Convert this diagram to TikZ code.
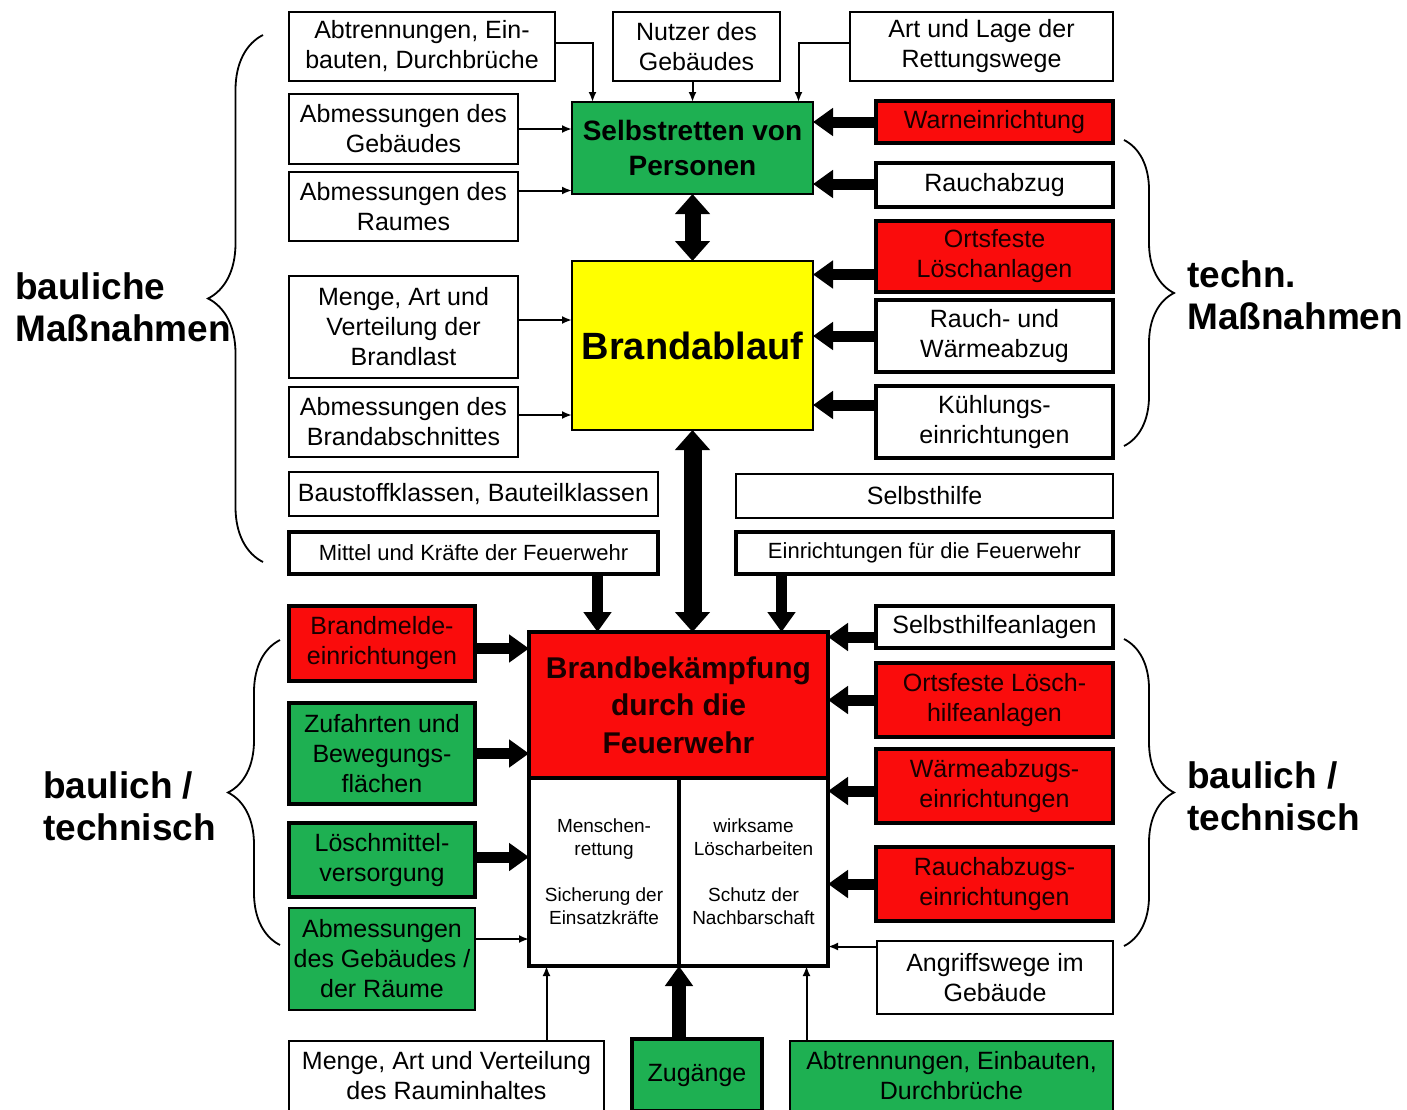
\documentclass[tikz,border=0pt]{standalone}
\usepackage{fontspec}
\setmainfont{Liberation Sans}
\usepackage{tikz}
\usetikzlibrary{arrows.meta,decorations.pathreplacing,positioning}

\definecolor{boxgreen}{RGB}{30,176,82}
\definecolor{boxred}{RGB}{250,12,12}
\definecolor{redtext}{RGB}{25,0,0}
\definecolor{boxyellow}{RGB}{255,255,0}

\begin{document}
\begin{tikzpicture}
    [
        x=1pt, y=-1pt,
        box/.style={draw, line width=1.8pt, fill=white, inner sep=0pt, outer sep=0pt,
                    align=center, font=\fontsize{25}{30}\selectfont},
        thickbox/.style={box, line width=4.5pt},
        redbox/.style={thickbox, fill=boxred, text=redtext},
        greenbox/.style={thickbox, fill=boxgreen},
        thinarr/.style={line width=2pt, -{Latex[length=10pt,width=8pt]}},
        thickarr/.style={line width=11pt, -{Triangle[length=20pt,width=27pt]}},
        bigarr/.style={line width=16pt, {Triangle[length=20pt,width=34pt]}-{Triangle[length=20pt,width=34pt]}},
        sidebrace/.style={decorate, decoration={brace, amplitude=#1}, line width=1.8pt},
        sidetext/.style={font=\fontsize{37}{42}\selectfont\bfseries, align=left, anchor=west, inner sep=0pt}
    ]
    \useasboundingbox (0,0) rectangle (1407,1109);

    % top row
    \node[box, minimum width=266pt, minimum height=69pt] (trenn) at (422,46.5) {Abtrennungen, Ein-\\bauten, Durchbrüche};
    \node[box, minimum width=167pt, minimum height=69pt] (nutzer) at (696.5,46.5) {Nutzer des\\Gebäudes};
    \node[box, minimum width=263pt, minimum height=69pt] (wege) at (981.5,46.5) {Art und Lage der\\Rettungswege};

    % left column
    \node[box, minimum width=229pt, minimum height=70pt] (geb) at (403.5,129) {Abmessungen des\\Gebäudes};
    \node[box, minimum width=229pt, minimum height=69pt] (raum) at (403.5,206.5) {Abmessungen des\\Raumes};
    \node[box, minimum width=229pt, minimum height=102pt] (last) at (403.5,327) {Menge, Art und\\Verteilung der\\Brandlast};
    \node[box, minimum width=229pt, minimum height=70pt] (abschn) at (403.5,422) {Abmessungen des\\Brandabschnittes};
    \node[box, minimum width=369pt, minimum height=44pt] (klassen) at (473.5,494) {Baustoffklassen, Bauteilklassen};
    \node[thickbox, minimum width=369pt, minimum height=42pt, font=\fontsize{22}{26}\selectfont] (mittel) at (473.5,553) {Mittel und Kräfte der Feuerwehr};

    % centre
    \node[box, fill=boxgreen, minimum width=241pt, minimum height=92pt, font=\fontsize{28}{35}\selectfont\bfseries] (selbst) at (692.5,148) {Selbstretten von\\Personen};
    \node[box, fill=boxyellow, minimum width=241pt, minimum height=169pt, font=\fontsize{38}{44}\selectfont\bfseries] (ablauf) at (692.5,345.5) {Brandablauf};
    \node[thickbox, fill=boxred, minimum width=299pt, minimum height=146pt, font=\fontsize{30}{37.5}\selectfont\bfseries, text=redtext] (bek) at (678.5,705) {Brandbekämpfung\\durch die\\Feuerwehr};
    \node[thickbox, minimum width=150pt, minimum height=188pt, anchor=north west, font=\fontsize{19}{23}\selectfont] (rettung) at (bek.south west) {Menschen-\\rettung\\[23pt]Sicherung der\\Einsatzkräfte};
    \node[thickbox, minimum width=149pt, minimum height=188pt, anchor=north west, font=\fontsize{19}{23}\selectfont] (schutz) at (rettung.north east) {wirksame\\Löscharbeiten\\[23pt]Schutz der\\Nachbarschaft};

    % right column
    \node[redbox, minimum width=237pt, minimum height=42pt] (warn) at (994.5,122) {Warneinrichtung};
    \node[thickbox, minimum width=237pt, minimum height=44pt] (rauch) at (994.5,185) {Rauchabzug};
    \node[redbox, minimum width=237pt, minimum height=71pt] (loesch) at (994.5,256.5) {Ortsfeste\\Löschanlagen};
    \node[thickbox, minimum width=237pt, minimum height=72pt] (rwa) at (994.5,336) {Rauch- und\\Wärmeabzug};
    \node[thickbox, minimum width=237pt, minimum height=72pt] (kuehl) at (994.5,422) {Kühlungs-\\einrichtungen};
    \node[box, minimum width=377pt, minimum height=44pt] (hilfe) at (924.5,496) {Selbsthilfe};
    \node[thickbox, minimum width=377pt, minimum height=42pt, font=\fontsize{22}{26}\selectfont] (einr) at (924.5,553) {Einrichtungen für die Feuerwehr};

    % lower right
    \node[thickbox, minimum width=237pt, minimum height=42pt] (sha) at (994.5,627) {Selbsthilfeanlagen};
    \node[redbox, minimum width=237pt, minimum height=74pt] (olha) at (994.5,700) {Ortsfeste Lösch-\\hilfeanlagen};
    \node[redbox, minimum width=237pt, minimum height=74pt] (wae) at (994.5,786) {Wärmeabzugs-\\einrichtungen};
    \node[redbox, minimum width=237pt, minimum height=74pt] (rae) at (994.5,884) {Rauchabzugs-\\einrichtungen};
    \node[box, minimum width=236pt, minimum height=73pt] (angr) at (995,977.5) {Angriffswege im\\Gebäude};

    % lower left
    \node[redbox, minimum width=186pt, minimum height=75pt] (melde) at (382,643.5) {Brandmelde-\\einrichtungen};
    \node[greenbox, minimum width=186pt, minimum height=101pt] (zufahrt) at (382,753.5) {Zufahrten und\\Bewegungs-\\flächen};
    \node[greenbox, minimum width=186pt, minimum height=74pt] (versorg) at (382,860) {Löschmittel-\\versorgung};
    \node[box, fill=boxgreen, minimum width=186pt, minimum height=102pt] (gebraum) at (382,959) {Abmessungen\\des Gebäudes /\\der Räume};

    % bottom row
    \node[box, minimum width=315pt, minimum height=70pt] (inhalt) at (446.5,1076) {Menge, Art und Verteilung\\des Rauminhaltes};
    \node[greenbox, minimum width=130pt, minimum height=72pt] (zugang) at (697,1075) {Zugänge};
    \node[box, fill=boxgreen, minimum width=323pt, minimum height=70pt] (trenn2) at (951.5,1076) {Abtrennungen, Einbauten,\\Durchbrüche};

    % side labels
    \node[sidetext] (baulmass) at (15,307) {bauliche\\Maßnahmen};
    \node[sidetext] (techmass) at (1187,295) {techn.\\Maßnahmen};
    \node[sidetext] (baultechL) at (43,806) {baulich /\\technisch};
    \node[sidetext] (baultechR) at (1187,796) {baulich /\\technisch};

    \draw[sidebrace=55] (263,562) -- (263,35);
    \draw[sidebrace=52] (280,945) -- (280,640);
    \draw[sidebrace=50] (1124,140) -- (1124,446);
    \draw[sidebrace=50] (1124,639) -- (1124,946);

    % into Selbstretten / Brandablauf
    \draw[thinarr] ([yshift=4pt]trenn.east) -| ([xshift=-100pt]selbst.north);
    \draw[thinarr] (nutzer.south -| selbst.north) -- (selbst.north);
    \draw[thinarr] ([yshift=4pt]wege.west) -| ([xshift=106pt]selbst.north);
    \draw[thinarr] (geb.east) -- (geb.east -| selbst.west);
    \draw[thinarr] ([yshift=16pt]raum.east) -- ([yshift=16pt]raum.east -| selbst.west);
    \draw[thinarr] ([yshift=7pt]last.east) -- ([yshift=7pt]last.east -| ablauf.west);
    \draw[thinarr] ([yshift=7pt]abschn.east) -- ([yshift=7pt]abschn.east -| ablauf.west);

    \draw[thickarr] (warn.west) -- (warn.west -| selbst.east);
    \draw[thickarr] ([yshift=1pt]rauch.west) -- ([yshift=1pt]rauch.west -| selbst.east);
    \draw[thickarr] ([yshift=-18pt]loesch.west) -- ([yshift=-18pt]loesch.west -| ablauf.east);
    \draw[thickarr] (rwa.west) -- (rwa.west -| ablauf.east);
    \draw[thickarr] ([yshift=17pt]kuehl.west) -- ([yshift=17pt]kuehl.west -| ablauf.east);

    \draw[bigarr] (selbst.south) -- (ablauf.north);
    \draw[bigarr, line width=18pt] (ablauf.south) -- (ablauf.south |- bek.north);

    % into Brandbekaempfung
    \draw[thickarr] ([xshift=124pt]mittel.south) -- ([xshift=124pt]mittel.south |- bek.north);
    \draw[thickarr] ([xshift=-143pt]einr.south) -- ([xshift=-143pt]einr.south |- bek.north);

    \draw[thickarr] ([yshift=-5pt]melde.east) -- ([yshift=-5pt]melde.east -| bek.west);
    \draw[thickarr] (zufahrt.east) -- (zufahrt.east -| bek.west);
    \draw[thickarr] ([yshift=3pt]versorg.east) -- ([yshift=3pt]versorg.east -| bek.west);
    \draw[thinarr] ([yshift=20pt]gebraum.east) -- ([yshift=20pt]gebraum.east -| bek.west);

    \draw[thickarr] ([yshift=-10pt]sha.west) -- ([yshift=-10pt]sha.west -| bek.east);
    \draw[thickarr] (olha.west) -- (olha.west -| bek.east);
    \draw[thickarr] ([yshift=-5pt]wae.west) -- ([yshift=-5pt]wae.west -| bek.east);
    \draw[thickarr] (rae.west) -- (rae.west -| bek.east);
    \draw[thinarr] ([yshift=31pt]angr.west) -- ([yshift=31pt]angr.west -| bek.east);

    \draw[thinarr] ([xshift=100pt]inhalt.north) -- ([xshift=100pt]inhalt.north |- rettung.south);
    \draw[thickarr, line width=14pt] (zugang.north -| rettung.east) -- (rettung.south east);
    \draw[thinarr] ([xshift=-145pt]trenn2.north) -- ([xshift=-145pt]trenn2.north |- schutz.south);
\end{tikzpicture}
\end{document}
